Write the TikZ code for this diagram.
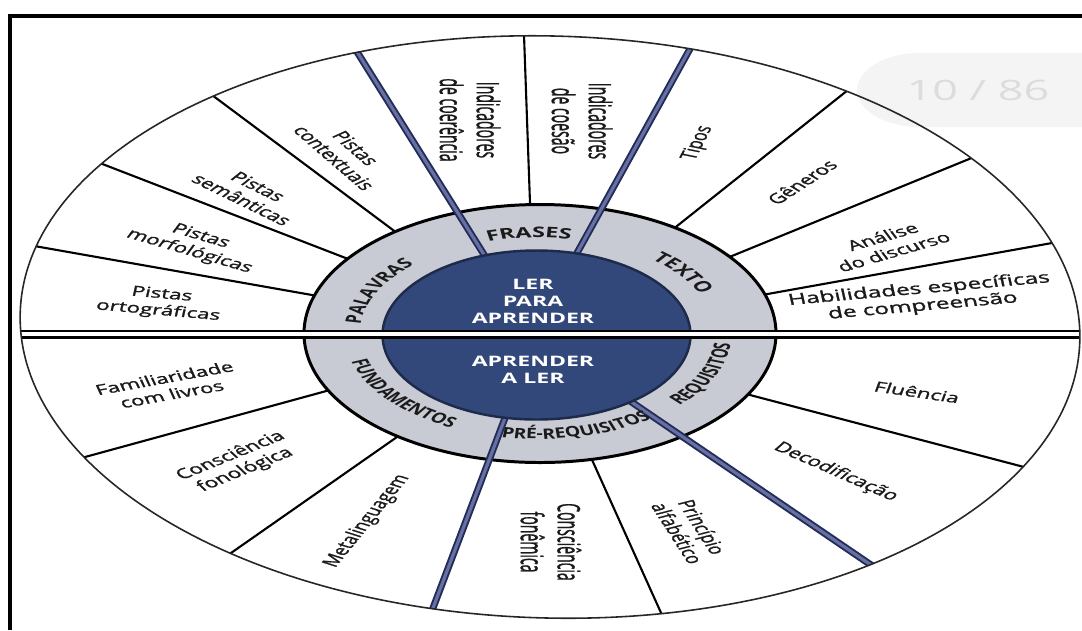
\documentclass[tikz,border=0pt]{standalone}
\usepackage{fontspec}
\setmainfont{Open Sans}
\newfontfamily\segfamily{Open Sans}[FakeBold=1.2]
\newfontfamily\ringcondfamily{Open Sans}[FakeStretch=0.84]
\usetikzlibrary{calc,decorations.text}

\definecolor{navy}{HTML}{33487A}
\definecolor{navyedge}{HTML}{1E2A4A}
\definecolor{ringgrey}{HTML}{C8CAD4}
\definecolor{bluedark}{HTML}{232C57}
\definecolor{bluelight}{HTML}{6670A3}
\definecolor{ink}{HTML}{1A1A1A}
\definecolor{pill}{HTML}{F4F4F4}
\definecolor{pilltext}{HTML}{DCDCDC}

\newcommand\ringlabelfont{\bfseries\fontsize{8.3}{10}\selectfont\color{ink}}
\newcommand\ringsmallfont{\bfseries\fontsize{7.8}{10}\selectfont\color{ink}}
\newcommand\ringcondfont{\ringcondfamily\bfseries\fontsize{8.2}{10}\selectfont\color{ink}}

\begin{document}
\begin{tikzpicture}[x=0.02cm, y=-0.02cm,
  seg/.style={font=\segfamily\fontsize{8}{9.5}\selectfont, text=ink, align=center, inner sep=0pt, xscale=1.6},
  segv/.style={seg, xscale=1.38},
  hub/.style={font=\bfseries\fontsize{8.2}{9.6}\selectfont, text=white, align=center, inner sep=0pt, xscale=1.6},
  divider/.style={line width=1.2pt, draw=black},
  bluebar/.style={line width=4pt, draw=bluedark},
  bluecore/.style={line width=1.8pt, draw=bluelight},
  ringtext/.style={decorate, decoration={text along path, text align=center, text={#1}}},
]
\useasboundingbox (0,0) rectangle (1082,630);
\fill[white] (0,0) rectangle (1082,630);

% page counter badge
\fill[pill] (1082,53) -- (920,53) arc[start angle=270, end angle=90, x radius=63, y radius=37] -- (1082,127) -- cycle;
\node[font=\fontsize{16}{16}\selectfont, text=pilltext, xscale=1.6] (page) at (978,90) {10 / 86};

% end points of the spokes (inner, outer)
\coordinate (i1) at (312,295); \coordinate (o1) at (40,247);
\coordinate (i2) at (343,257); \coordinate (o2) at (105,165);
\coordinate (i3) at (393,230); \coordinate (o3) at (216,98);
\coordinate (i5) at (530,203); \coordinate (o5) at (524,35);
\coordinate (i7) at (672,230); \coordinate (o7) at (848,90);
\coordinate (i8) at (727,258); \coordinate (o8) at (974,157);
\coordinate (i9) at (762,295); \coordinate (o9) at (1052,243);
\coordinate (ia) at (750,395); \coordinate (oa) at (1024,467);
\coordinate (ic) at (593,462); \coordinate (oc) at (662,615);
\coordinate (ie) at (397,437); \coordinate (oe) at (231,553);
\coordinate (if) at (330,390); \coordinate (of) at (85,457);
% heavy spokes
\coordinate (i4) at (483,253); \coordinate (o4) at (359,55);
\coordinate (i6) at (577,253); \coordinate (o6) at (691,47);
\coordinate (ib) at (633,403); \coordinate (ob) at (874,567);
\coordinate (id) at (505,418); \coordinate (od) at (433,608);

\begin{scope}
  \clip[rotate around={-1.5:(550,327)}] (550,327) ellipse [x radius=530, y radius=291];
  % thin spokes
  \foreach \s in {1,2,3,5,7,8,9,a,c,e,f}
    \draw[divider] ($(i\s)!-0.2!(o\s)$) -- ($(i\s)!1.15!(o\s)$);
  % middle ring
  \draw[line width=1.7pt, fill=ringgrey, draw=black] (540,333.5) ellipse [x radius=236, y radius=129];
  % heavy spokes
  \foreach \s in {4,6,b,d} {
    \draw[bluebar] ($(i\s)!-0.1!(o\s)$) -- ($(i\s)!1.15!(o\s)$);
    \draw[bluecore] ($(i\s)!-0.1!(o\s)$) -- ($(i\s)!1.15!(o\s)$);
  }
  % hub
  \draw[line width=1.4pt, fill=navy, draw=navyedge] (536.5,335) ellipse [x radius=154, y radius=84.5];
  % double horizontal divider
  \fill[white] (0,331) rectangle (1082,337);
  \draw[line width=1.2pt] (0,331) -- (1082,331);
  \draw[line width=1.5pt] (0,337.5) -- (1082,337.5);
\end{scope}

% outer rim
\draw[line width=0.9pt, black!85, rotate around={-1.5:(550,327)}] (550,327) ellipse [x radius=530, y radius=291];

% hub labels
\node[hub] (up) at (533,301) {LER\\PARA\\APRENDER};
\node[hub] (down) at (533,370) {APRENDER\\A LER};

% ring labels, set along elliptical arcs
\begin{scope}[transform canvas={xscale=1.6}]
  \path[ringtext={|\ringlabelfont|FRASES}] plot[domain=138:48, samples=50] ({336.25+111.5*cos(\x)},{334-96.5*sin(\x)});
  \path[ringtext={|\ringsmallfont|PALAVRAS}] plot[domain=195:115, samples=50] ({336.25+111.5*cos(\x)},{334-96.5*sin(\x)});
  \path[ringtext={|\ringlabelfont|TEXTO}] plot[domain=76:-4, samples=50] ({336.25+111.5*cos(\x)},{334-96.5*sin(\x)});
  \path[ringtext={|\ringcondfont|FUNDAMENTOS}] plot[domain=173:263, samples=50] ({336.25+121*cos(\x)},{334-105*sin(\x)});
  \path[ringtext={|\ringcondfont|PRÉ-REQUISITOS}] plot[domain=238:328, samples=50] ({336.25+121*cos(\x)},{334-105*sin(\x)});
  \path[ringtext={|\ringcondfont|REQUISITOS}] plot[domain=292:382, samples=50] ({336.25+121*cos(\x)},{334-105*sin(\x)});
\end{scope}

% sector labels, upper half
\node[seg, rotate=-8] (t1) at (160,303) {Pistas\\ortográficas};
\node[seg, rotate=-25] (t2) at (195,244) {Pistas\\morfológicas};
\node[seg, rotate=-38] (t3) at (250,193) {Pistas\\semânticas};
\node[seg, rotate=-54] (t4) at (345,153) {Pistas\\contextuais};
\node[segv, rotate=-90] (t5) at (470,120) {Indicadores\\de coerência};
\node[segv, rotate=-90] (t6) at (582,121) {Indicadores\\de coesão};
\node[seg, rotate=72] (t7) at (698,143) {Tipos};
\node[seg, rotate=46] (t8) at (802,182) {Gêneros};
\node[seg, rotate=25] (t9) at (888,244) {Análise\\do discurso};
\node[seg, rotate=8, font=\segfamily\fontsize{8.7}{9.7}\selectfont] (t10) at (921,298) {Habilidades específicas\\de compreensão};
% sector labels, lower half
\node[seg, rotate=16] (t11) at (168,386) {Familiaridade\\com livros};
\node[seg, rotate=33] (t12) at (238,463) {Consciência\\fonológica};
\node[seg, rotate=63] (t13) at (367,521) {Metalinguagem};
\node[segv, rotate=-90] (t14) at (551,542) {Consciência\\fonêmica};
\node[seg, rotate=-68] (t15) at (690,530) {Princípio\\alfabético};
\node[seg, rotate=-35] (t16) at (836,472) {Decodificação};
\node[seg, rotate=-13] (t17) at (917,392) {Fluência};

% frame
\draw[line width=2.2pt, black] (10,630) -- (10,16) -- (1082,16);
\end{tikzpicture}
\end{document}
